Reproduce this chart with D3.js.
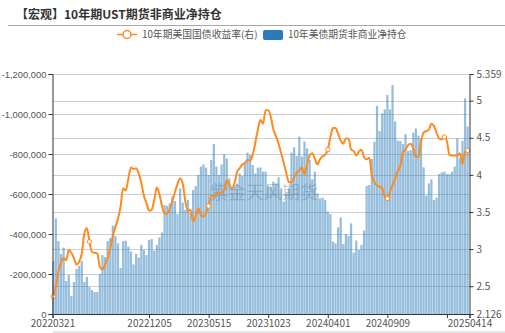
<!DOCTYPE html>
<html><head><meta charset="utf-8">
<script src="https://cdn.jsdelivr.net/npm/d3@7"></script>
<style>
html,body{margin:0;padding:0;background:#fff;}
svg{display:block;font-family:"Noto Sans CJK SC","Noto Sans",sans-serif;}
</style></head>
<body><svg id="chart" width="505" height="333"></svg>
<script>
const title = "【宏观】10年期UST期货非商业净持仓";
const seriesNames = ["10年期美国国债收益率(右)", "10年美债期货非商业净持仓"];
const startDate = "20220321";
const weekCount = 161;
// net non-commercial position (contracts)
const netPosition = [
-265000,-478000,-365000,-300000,-332000,-165000,-195000,-90000,-160000,-225000,
-240000,-265000,-160000,-185000,-135000,-120000,-110000,-110000,-200000,-295000,
-285000,-365000,-380000,-442000,-390000,-353000,-230000,-365000,-367000,-337000,
-312000,-248000,-300000,-282000,-345000,-320000,-295000,-370000,-375000,-317000,
-345000,-383000,-408000,-545000,-540000,-553000,-587000,-565000,-500000,-628000,
-557000,-520000,-570000,-505000,-620000,-640000,-695000,-737000,-748000,-732000,
-695000,-770000,-850000,-737000,-695000,-748000,-800000,-778000,-678000,-628000,
-637000,-648000,-703000,-690000,-750000,-807000,-795000,-745000,-703000,-732000,
-733000,-712000,-712000,-640000,-637000,-662000,-653000,-683000,-628000,-562000,
-603000,-628000,-807000,-833000,-790000,-887000,-787000,-862000,-828000,-770000,
-673000,-712000,-603000,-578000,-582000,-570000,-512000,-500000,-362000,-353000,
-433000,-482000,-350000,-400000,-390000,-453000,-307000,-367000,-320000,-345000,
-417000,-640000,-645000,-775000,-862000,-1040000,-915000,-1003000,-1023000,-1095000,
-1023000,-1145000,-962000,-867000,-865000,-850000,-900000,-815000,-820000,-907000,
-928000,-892000,-878000,-733000,-592000,-653000,-673000,-570000,-582000,-700000,
-707000,-712000,-700000,-700000,-712000,-737000,-878000,-778000,-865000,-1078000,
-937000];
// 10Y treasury yield (%)
const yield10y = [
2.36,2.49,2.70,2.82,2.88,2.85,2.99,2.95,2.88,2.79,
2.83,2.94,3.21,3.28,3.10,2.96,2.95,2.94,2.76,2.73,
2.79,2.88,3.01,3.17,3.30,3.41,3.58,3.82,3.79,3.95,
4.10,4.08,4.09,4.02,3.89,3.72,3.62,3.52,3.53,3.66,
3.83,3.74,3.58,3.48,3.48,3.54,3.65,3.77,3.88,3.95,
3.88,3.64,3.51,3.53,3.37,3.45,3.55,3.46,3.44,3.49,
3.58,3.72,3.71,3.74,3.76,3.76,3.79,3.93,3.86,3.82,
3.89,4.04,4.09,4.14,4.16,4.20,4.19,4.27,4.43,4.61,
4.74,4.69,4.87,4.87,4.78,4.61,4.52,4.42,4.29,4.16,
4.02,3.90,3.90,3.97,4.03,4.06,4.10,4.01,4.14,4.26,
4.29,4.22,4.14,4.21,4.25,4.27,4.34,4.51,4.63,4.63,
4.55,4.46,4.42,4.49,4.49,4.34,4.32,4.26,4.31,4.34,
4.24,4.21,4.23,4.00,3.90,3.86,3.84,3.82,3.71,3.68,
3.77,3.86,3.95,4.05,4.12,4.30,4.34,4.40,4.42,4.36,
4.24,4.24,4.45,4.57,4.59,4.61,4.69,4.66,4.57,4.49,
4.48,4.51,4.45,4.27,4.26,4.26,4.26,4.29,4.15,4.31,
4.33];
const markerIdx = [0, 14, 60, 106, 129, 151, 160];
const leftTicks = [0, -200000, -400000, -600000, -800000, -1000000, -1200000];
const rightTicks = [2.126, 2.5, 3, 3.5, 4, 4.5, 5, 5.359];
const xTickDates = ["20220321","20221205","20230515","20231023","20240401","20240909","20250217","20250414"];
const xTickShown = ["20220321","20221205","20230515","20231023","20240401","20240909","","20250414"];
const watermark = "紫金天风期货";

const parse = d3.timeParse("%Y%m%d");
const t0 = parse(startDate);
const dates = d3.range(weekCount).map(i => d3.timeDay.offset(t0, 7 * i));

const L = 52.5, R = 469.5, T = 74, B = 314;
const svg = d3.select("#chart");

const x = d3.scaleTime()
  .domain([d3.timeDay.offset(t0, -2), d3.timeDay.offset(dates[dates.length - 1], 5)])
  .range([L, R]);
const yL = d3.scaleLinear().domain([0, -1200000]).range([B, T]);
const yR = d3.scaleLinear().domain([2.126, 5.359]).range([B, T]);

// title
svg.append("text").attr("x", 16).attr("y", 18.5)
  .attr("font-size", 12).attr("font-weight", "bold").attr("fill", "#333")
  .text(title);
svg.append("line").attr("x1", 8).attr("x2", 505).attr("y1", 25.5).attr("y2", 25.5)
  .attr("stroke", "#a8a8a8").attr("stroke-width", 1);

// legend
const lg = svg.append("g");
lg.append("line").attr("x1", 117).attr("x2", 137).attr("y1", 34.5).attr("y2", 34.5)
  .attr("stroke", "#ff8a1f").attr("stroke-width", 1.5);
lg.append("circle").attr("cx", 127).attr("cy", 34.5).attr("r", 4)
  .attr("fill", "#fff").attr("stroke", "#ff8a1f").attr("stroke-width", 1.5);
lg.append("text").attr("x", 142).attr("y", 38).attr("font-size", 9.8).attr("fill", "#555")
  .text(seriesNames[0]);
lg.append("rect").attr("x", 263).attr("y", 30).attr("width", 20).attr("height", 10).attr("rx", 2)
  .attr("fill", "#2b7bba");
lg.append("text").attr("x", 288).attr("y", 38).attr("font-size", 9.8).attr("fill", "#555")
  .text(seriesNames[1]);

// grid
const grid = svg.append("g");
leftTicks.forEach(v => {
  grid.append("line").attr("x1", L).attr("x2", R)
    .attr("y1", Math.round(yL(v)) + 0.5).attr("y2", Math.round(yL(v)) + 0.5)
    .attr("stroke", "#cfcfcf");
});
rightTicks.slice(1, -1).forEach(v => {
  grid.append("line").attr("x1", L).attr("x2", R)
    .attr("y1", Math.round(yR(v)) + 0.5).attr("y2", Math.round(yR(v)) + 0.5)
    .attr("stroke", "#cfcfcf");
});

// watermark
svg.append("text").attr("x", 210).attr("y", 199).attr("font-size", 18)
  .attr("fill", "#7a7a7a").attr("fill-opacity", 0.4).text(watermark);

// bars
const bw = 2.2;
svg.append("g").selectAll("rect").data(netPosition).join("rect")
  .attr("x", (d, i) => x(dates[i]) - bw / 2)
  .attr("width", bw)
  .attr("y", d => yL(d))
  .attr("height", d => yL(0) - yL(d))
  .attr("fill", "#2b7bba").attr("fill-opacity", 0.5);

// line
const line = d3.line().x((d, i) => x(dates[i])).y(d => yR(d)).curve(d3.curveMonotoneX);
svg.append("path").datum(yield10y).attr("d", line)
  .attr("fill", "none").attr("stroke", "#ff8a1f").attr("stroke-width", 2)
  .attr("stroke-linejoin", "round");
svg.append("g").selectAll("circle").data(markerIdx).join("circle")
  .attr("cx", i => x(dates[i])).attr("cy", i => yR(yield10y[i])).attr("r", 2.2)
  .attr("fill", "#fff").attr("stroke", "#ff8a1f").attr("stroke-width", 1);

// axes
const fmt = d3.formatLocale({decimal: ".", thousands: ",", grouping: [3], currency: ["", ""], minus: "-"}).format(",");
const axL = svg.append("g").attr("transform", `translate(${L},0)`)
  .call(d3.axisLeft(yL).tickValues(leftTicks).tickFormat(fmt).tickSize(4).tickPadding(2));
const axR = svg.append("g").attr("transform", `translate(${R},0)`)
  .call(d3.axisRight(yR).tickValues(rightTicks).tickFormat(d => String(d)).tickSize(4).tickPadding(3));
const xTickVals = xTickDates.map((s, k) => k === 0 ? x.domain()[0] : (k === xTickDates.length - 1 ? x.domain()[1] : parse(s)));
const axB = svg.append("g").attr("transform", `translate(0,${B})`)
  .call(d3.axisBottom(x).tickValues(xTickVals).tickFormat((d, k) => xTickShown[k]).tickSize(4).tickPadding(2));
[axL, axR, axB].forEach(a => {
  a.select(".domain").attr("stroke", "#333");
  a.selectAll(".tick line").attr("stroke", "#333");
  a.selectAll(".tick text").attr("fill", "#555").attr("font-size", 10)
    .attr("font-family", '"Noto Sans CJK SC","Noto Sans",sans-serif');
});
axL.selectAll(".tick text").attr("font-size", 9.4).attr("font-family", '"Liberation Sans",Arial,sans-serif');

// bottom strip
svg.append("line").attr("x1", 53).attr("x2", 505).attr("y1", 332).attr("y2", 332)
  .attr("stroke", "#e6e6e6").attr("stroke-width", 2);
</script></body></html>
